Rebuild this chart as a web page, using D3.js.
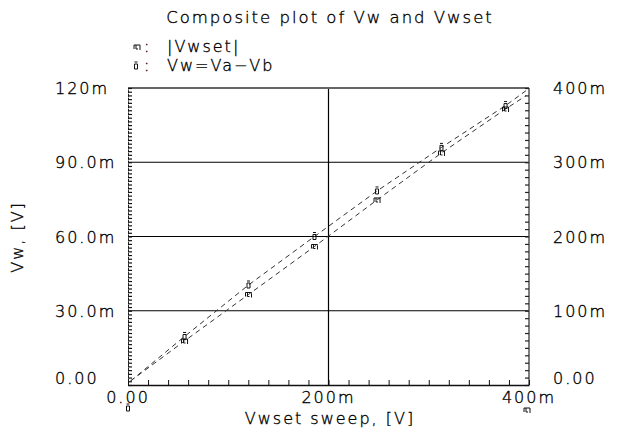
<!DOCTYPE html>
<html><head><meta charset="utf-8">
<script src="https://cdn.jsdelivr.net/npm/d3@7"></script>
<style>
html,body{margin:0;padding:0;background:#fff;}
text{font-family:"DejaVu Sans",sans-serif;font-weight:200;font-size:16px;letter-spacing:2px;fill:#000;stroke:#000;stroke-width:0.35px;}
</style></head>
<body><svg id="c" width="631" height="433"></svg>
<script>
// ---- data (values in milli-volts) ----
const sweepV      = [2.5, 56.4, 120.2, 186.0, 248.4, 312.7, 376.6, 397.0];
const vwValues    = [1.6, 19.6, 40.4, 60.0, 78.4, 96.0, 112.9, 118.9];
const vwsetValues = [5.4, 59.3, 121.9, 186.5, 249.2, 312.5, 371.7, 389.6];
const markerIdx   = [1, 2, 3, 4, 5, 6];
const leftTickVals  = [0, 30, 60, 90, 120];
const leftTickLbls  = ["0.00", "30.0m", "60.0m", "90.0m", "120m"];
const rightTickVals = [0, 100, 200, 300, 400];
const rightTickLbls = ["0.00", "100m", "200m", "300m", "400m"];
const xTickVals  = [0, 200, 400];
const xTickLbls  = ["0.00", "200m", "400m"];
const titleText  = "Composite plot of Vw and Vwset";
const xTitle     = "Vwset sweep, [V]";
const yTitle     = "Vw, [V]";
const legendLbls = ["|Vwset|", "Vw=Va\u2212Vb"];

const L = 128, R = 529, T = 88, B = 385;
const svg = d3.select("#c");
const x = d3.scaleLinear().domain([0, 400]).range([L, R]);
const yL = d3.scaleLinear().domain([0, 120]).range([B, T]);
const yR = d3.scaleLinear().domain([0, 400]).range([B, T]);

// grid
svg.append("g").selectAll("line").data([30, 60, 90]).join("line")
  .attr("x1", L).attr("x2", R).attr("y1", d => yL(d)).attr("y2", d => yL(d))
  .attr("stroke", "#000").attr("stroke-width", 1.2);
svg.append("line").attr("x1", x(200)).attr("x2", x(200)).attr("y1", T).attr("y2", B)
  .attr("stroke", "#000").attr("stroke-width", 1.2);

// frame top/right
svg.append("line").attr("x1", L).attr("x2", R).attr("y1", T).attr("y2", T)
  .attr("stroke", "#666").attr("stroke-width", 2);
svg.append("line").attr("x1", R).attr("x2", R).attr("y1", T).attr("y2", B)
  .attr("stroke", "#555").attr("stroke-width", 1.5);

// left axis minor ticks
const gl = svg.append("g").attr("transform", `translate(${L},0)`)
  .call(d3.axisRight(yL).tickValues(d3.range(0, 120.01, 1.5)).tickSize(4).tickSizeOuter(0).tickFormat(""));
gl.selectAll("line").attr("stroke", "#111").attr("stroke-width", 1.2);
gl.select(".domain").attr("stroke", "#222").attr("stroke-dasharray", "3,0.7");
// right axis ticks
const gr = svg.append("g").attr("transform", `translate(${R},0)`)
  .call(d3.axisLeft(yR).tickValues(d3.range(0, 400.01, 10)).tickSize(4).tickSizeOuter(0).tickFormat(""));
gr.selectAll("line").attr("stroke", "#222").attr("stroke-width", 1.2);
gr.select(".domain").remove();
// bottom ticks
const gb = svg.append("g").attr("transform", `translate(0,${B})`)
  .call(d3.axisTop(x).tickValues(d3.range(0, 400.01, 20)).tickSize(5).tickSizeOuter(0).tickFormat(""));
gb.selectAll("line").attr("stroke", "#111");
gb.select(".domain").attr("stroke", "#111").attr("stroke-width", 1.5);

// labels
svg.append("g").selectAll("text").data(leftTickVals).join("text")
  .attr("x", 55).attr("y", (d, i) => yL(d) + (d === 0 ? -1 : 6))
  .text((d, i) => leftTickLbls[i]);
svg.append("g").selectAll("text").data(rightTickVals).join("text")
  .attr("x", 553).attr("y", (d, i) => yR(d) + (d === 0 ? -1 : 6))
  .text((d, i) => rightTickLbls[i]);
svg.append("g").selectAll("text").data(xTickVals).join("text")
  .attr("x", d => x(d)).attr("y", 403).attr("text-anchor", "middle")
  .text((d, i) => xTickLbls[i]);
svg.append("text").attr("x", 330).attr("y", 424).attr("text-anchor", "middle").text(xTitle);
svg.append("text").attr("transform", "translate(23,237) rotate(-90)").attr("text-anchor", "middle").text(yTitle);
svg.append("text").attr("x", 330).attr("y", 23).attr("text-anchor", "middle")
  .style("font-size", "16.5px").text(titleText);

// marker glyphs
function glyphVw(g) { // small "i"-like marker
  g.append("path").attr("d", "M-1.5,-4 h3 M-1.5,-2 v5 h3 v-5 z").attr("fill", "none")
    .attr("stroke", "#111").attr("stroke-width", 1);
}
function glyphVwset(g) { // "=|" like marker
  g.append("path").attr("d", "M-3,-2 h6 v1 M-3,-2 v4 M-1,-2 v4 h2 M3,-1 v4").attr("fill", "none")
    .attr("stroke", "#111").attr("stroke-width", 1);
}

// lines
const lineVw = d3.line().x((d, i) => x(sweepV[i])).y(d => yL(d));
const lineVwset = d3.line().x((d, i) => x(sweepV[i])).y(d => yR(d));
svg.append("path").attr("d", lineVw(vwValues)).attr("fill", "none")
  .attr("stroke", "#333").attr("stroke-width", 1).attr("stroke-dasharray", "5,4");
svg.append("path").attr("d", lineVwset(vwsetValues)).attr("fill", "none")
  .attr("stroke", "#333").attr("stroke-width", 1).attr("stroke-dasharray", "5,4");

markerIdx.forEach(i => {
  glyphVw(svg.append("g").attr("transform", `translate(${x(sweepV[i])},${yL(vwValues[i])})`));
  glyphVwset(svg.append("g").attr("transform", `translate(${x(sweepV[i])},${yR(vwsetValues[i])})`));
});

// legend
glyphVwset(svg.append("g").attr("transform", "translate(137,47)"));
glyphVw(svg.append("g").attr("transform", "translate(136,66)"));
svg.append("text").attr("x", 144).attr("y", 52).text(":");
svg.append("text").attr("x", 144).attr("y", 71).text(":");
svg.append("text").attr("x", 167).attr("y", 52).text(legendLbls[0]);
svg.append("text").attr("x", 167).attr("y", 71).text(legendLbls[1]);

// axis association glyphs
glyphVw(svg.append("g").attr("transform", `translate(${x(0)},408)`));
glyphVwset(svg.append("g").attr("transform", `translate(${x(400) - 2},410)`));
</script></body></html>
